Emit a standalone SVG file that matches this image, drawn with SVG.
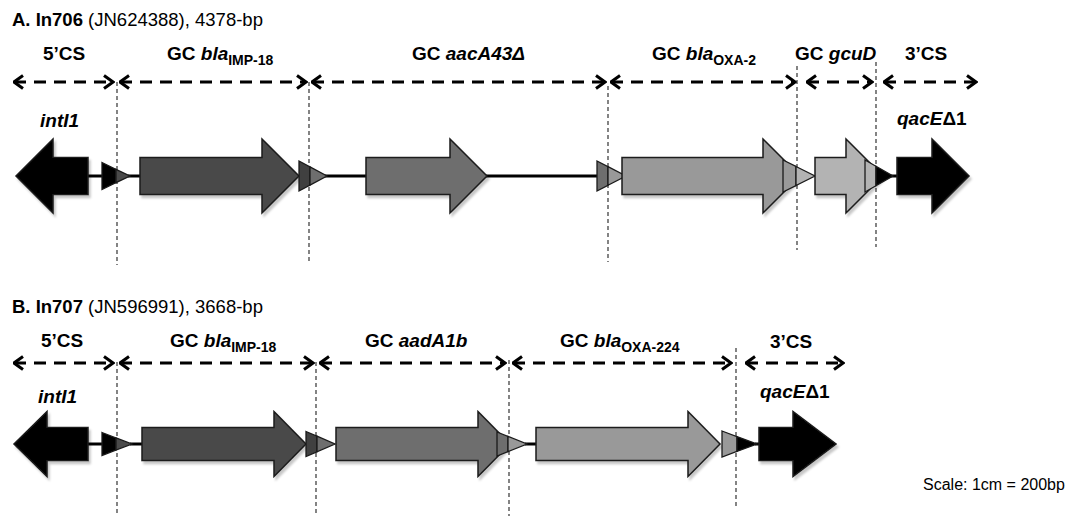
<svg xmlns="http://www.w3.org/2000/svg" width="1072" height="518" viewBox="0 0 1072 518">
  <defs>
    <style>
      .title { font-family: "Liberation Sans", Arial, sans-serif; font-size: 18.5px; fill: #000; }
      .title .b { font-weight: bold; }
      .lbl { font-family: "Liberation Sans", Arial, sans-serif; font-size: 19px; font-weight: bold; fill: #000; }
      .it { font-style: italic; }
      .sub { font-size: 14px; }
      .scale { font-family: "Liberation Sans", Arial, sans-serif; font-size: 16px; fill: #000; }
      .conn { stroke: #000; stroke-width: 3; fill: none; }
      .gene { stroke: #1a1a1a; stroke-width: 1.5; stroke-linejoin: miter; filter: url(#shadow); }
      .att { stroke: #1a1a1a; stroke-width: 1.3; stroke-linejoin: miter; }
      .bound { stroke: #333; stroke-width: 1.2; stroke-dasharray: 4 3; fill: none; }
      .span { stroke: #000; stroke-width: 3; stroke-dasharray: 12 8; fill: none; marker-start: url(#chev); marker-end: url(#chev); }
      .k { fill: #000; }
      .g1 { fill: #4a4a4a; }
      .g2 { fill: #6e6e6e; }
      .g3 { fill: #999999; }
      .g4 { fill: #b3b3b3; }
    </style>
    <marker id="chev" markerUnits="userSpaceOnUse" viewBox="0 0 12 16" markerWidth="12" markerHeight="16" refX="10.5" refY="8" orient="auto-start-reverse">
      <path d="M1.5,1.5 L10.5,8 L1.5,14.5" fill="none" stroke="#000" stroke-width="3"/>
    </marker>
    <filter id="shadow" x="-10%" y="-10%" width="130%" height="140%">
      <feDropShadow dx="2" dy="3" stdDeviation="1.2" flood-color="#000" flood-opacity="0.22"/>
    </filter>
  </defs>

  <rect width="1072" height="518" fill="#fff"/>

  <!-- ===== Panel A: In706 ===== -->
  <text class="title" x="12" y="26"><tspan class="b">A. In706</tspan> (JN624388), 4378-bp</text>

  <g id="A-labels">
    <text class="lbl" x="64" y="60" text-anchor="middle">5’CS</text>
    <text class="lbl" x="167" y="60">GC <tspan class="it">bla</tspan><tspan class="sub" dy="5">IMP-18</tspan></text>
    <text class="lbl" x="412" y="60">GC <tspan class="it">aacA43Δ</tspan></text>
    <text class="lbl" x="652" y="60">GC <tspan class="it">bla</tspan><tspan class="sub" dy="5">OXA-2</tspan></text>
    <text class="lbl" x="795" y="60">GC <tspan class="it">gcuD</tspan></text>
    <text class="lbl" x="905" y="60">3’CS</text>
    <text class="lbl it" x="40" y="127">intI1</text>
    <text class="lbl" x="897" y="125"><tspan class="it">qacE</tspan>Δ1</text>
  </g>

  <!-- cassette extents -->
  <g id="A-spans">
    <line class="span" x1="14" y1="82" x2="113" y2="82"/>
    <line class="span" x1="120" y1="82" x2="306" y2="82"/>
    <line class="span" x1="312" y1="82" x2="605" y2="82"/>
    <line class="span" x1="611" y1="82" x2="795" y2="82"/>
    <line class="span" x1="807" y1="82" x2="872" y2="82"/>
    <line class="span" x1="884" y1="82" x2="976" y2="82"/>
  </g>

  <!-- cassette boundaries -->
  <g id="A-bounds">
    <line class="bound" x1="117" y1="82" x2="117" y2="265"/>
    <line class="bound" x1="309" y1="82" x2="309" y2="263"/>
    <line class="bound" x1="608" y1="86" x2="608" y2="262"/>
    <line class="bound" x1="797" y1="66" x2="797" y2="250"/>
    <line class="bound" x1="876" y1="62" x2="876" y2="247" stroke="#555"/>
  </g>

  <g id="A-connectors">
    <line class="conn" x1="86" y1="176" x2="104" y2="176"/>
    <line class="conn" x1="128" y1="176" x2="142" y2="176"/>
    <line class="conn" x1="325" y1="176" x2="368" y2="176"/>
    <line class="conn" x1="485" y1="176" x2="599" y2="176"/>
    <line class="conn" x1="891" y1="176" x2="899" y2="176"/>
  </g>

  <g id="A-intI1">
    <path class="gene k" d="M88,157.5 L53,157.5 L53,139 L16,176 L53,213 L53,194.5 L88,194.5 Z"/>
  </g>
  <g id="A-attI1">
    <polygon class="att k" points="102,162.5 116,169.3 116,182.7 102,189.5"/>
    <polygon class="att g1" points="116,169.3 130,176 116,182.7"/>
  </g>
  <g id="A-blaIMP18">
    <path class="gene g1" d="M140,157.5 L262,157.5 L262,139 L299,176 L262,213 L262,194.5 L140,194.5 Z"/>
  </g>
  <g id="A-attC1">
    <polygon class="att" fill="#404040" points="299,161 310,166.9 310,185.1 299,191"/>
    <polygon class="att g2" points="310,166.9 327,176 310,185.1"/>
  </g>
  <g id="A-aacA43">
    <path class="gene g2" d="M366,157.5 L450,157.5 L450,139 L487,176 L450,213 L450,194.5 L366,194.5 Z"/>
  </g>
  <g id="A-attC2">
    <polygon class="att g2" points="597,161 608,166.7 608,185.3 597,191"/>
    <polygon class="att g3" points="608,166.7 626,176 608,185.3"/>
  </g>
  <g id="A-blaOXA2">
    <path class="gene g3" d="M622,157.5 L763,157.5 L763,139 L800,176 L763,213 L763,194.5 L622,194.5 Z"/>
  </g>
  <g id="A-attC3">
    <polygon class="att g3" points="783,160 796,166.5 796,185.5 783,192"/>
    <polygon class="att g4" points="796,166.5 815,176 796,185.5"/>
  </g>
  <g id="A-gcuD">
    <path class="gene g4" d="M815,157.5 L846,157.5 L846,139 L883,176 L846,213 L846,194.5 L815,194.5 Z"/>
  </g>
  <g id="A-attC4">
    <polygon class="att g4" points="865,160 876,166.3 876,185.7 865,192"/>
    <polygon class="att k" points="876,166.3 893,176 876,185.7"/>
  </g>
  <g id="A-qacE">
    <path class="gene k" d="M897,157.5 L932,157.5 L932,139 L969,176 L932,213 L932,194.5 L897,194.5 Z"/>
  </g>

  <!-- ===== Panel B: In707 ===== -->
  <text class="title" x="12" y="313"><tspan class="b">B. In707</tspan> (JN596991), 3668-bp</text>

  <g id="B-labels">
    <text class="lbl" x="62" y="347" text-anchor="middle">5’CS</text>
    <text class="lbl" x="170" y="347">GC <tspan class="it">bla</tspan><tspan class="sub" dy="5">IMP-18</tspan></text>
    <text class="lbl" x="365" y="347">GC <tspan class="it">aadA1b</tspan></text>
    <text class="lbl" x="560" y="347">GC <tspan class="it">bla</tspan><tspan class="sub" dy="5">OXA-224</tspan></text>
    <text class="lbl" x="770" y="348">3’CS</text>
    <text class="lbl it" x="38" y="403">intI1</text>
    <text class="lbl" x="760" y="398"><tspan class="it">qacE</tspan>Δ1</text>
  </g>

  <g id="B-spans">
    <line class="span" x1="14" y1="363" x2="113" y2="363"/>
    <line class="span" x1="120" y1="363" x2="313" y2="363"/>
    <line class="span" x1="320" y1="363" x2="505" y2="363"/>
    <line class="span" x1="513" y1="363" x2="731" y2="363"/>
    <line class="span" x1="746" y1="363" x2="843" y2="363"/>
  </g>

  <g id="B-bounds">
    <line class="bound" x1="117" y1="362" x2="117" y2="516"/>
    <line class="bound" x1="316" y1="362" x2="316" y2="516"/>
    <line class="bound" x1="509" y1="360" x2="509" y2="516"/>
    <line class="bound" x1="736" y1="348" x2="736" y2="508"/>
  </g>

  <g id="B-connectors">
    <line class="conn" x1="86" y1="444" x2="104" y2="444"/>
    <line class="conn" x1="130" y1="444" x2="144" y2="444"/>
    <line class="conn" x1="525" y1="444" x2="538" y2="444"/>
    <line class="conn" x1="755" y1="444" x2="761" y2="444"/>
  </g>

  <g id="B-intI1">
    <path class="gene k" d="M88,427.5 L47,427.5 L47,411.5 L14,444 L47,476.5 L47,460.5 L88,460.5 Z"/>
  </g>
  <g id="B-attI1">
    <polygon class="att k" points="102,432.5 116,437.9 116,450.1 102,455.5"/>
    <polygon class="att g1" points="116,437.9 132,444 116,450.1"/>
  </g>
  <g id="B-blaIMP18">
    <path class="gene g1" d="M142,427.5 L274,427.5 L274,411.5 L306,444 L274,476.5 L274,460.5 L142,460.5 Z"/>
  </g>
  <g id="B-attC1">
    <polygon class="att" fill="#404040" points="306,431.5 317,436.2 317,451.8 306,456.5"/>
    <polygon class="att g2" points="317,436.2 335,444 317,451.8"/>
  </g>
  <g id="B-aadA1b">
    <path class="gene g2" d="M336,427.5 L478,427.5 L478,411.5 L510,444 L478,476.5 L478,460.5 L336,460.5 Z"/>
  </g>
  <g id="B-attC2">
    <polygon class="att g2" points="497,432 508,436.4 508,451.6 497,456"/>
    <polygon class="att g3" points="508,436.4 527,444 508,451.6"/>
  </g>
  <g id="B-blaOXA224">
    <path class="gene g3" d="M536,427.5 L688,427.5 L688,411.5 L720,444 L688,476.5 L688,460.5 L536,460.5 Z"/>
  </g>
  <g id="B-attC3">
    <polygon class="att g3" points="722,431 737,436.6 737,451.4 722,457"/>
    <polygon class="att k" points="737,436.6 757,444 737,451.4"/>
  </g>
  <g id="B-qacE">
    <path class="gene k" d="M759,427.5 L793,427.5 L793,411.5 L836,444 L793,476.5 L793,460.5 L759,460.5 Z"/>
  </g>

  <text class="scale" x="923" y="490">Scale: 1cm = 200bp</text>
</svg>
